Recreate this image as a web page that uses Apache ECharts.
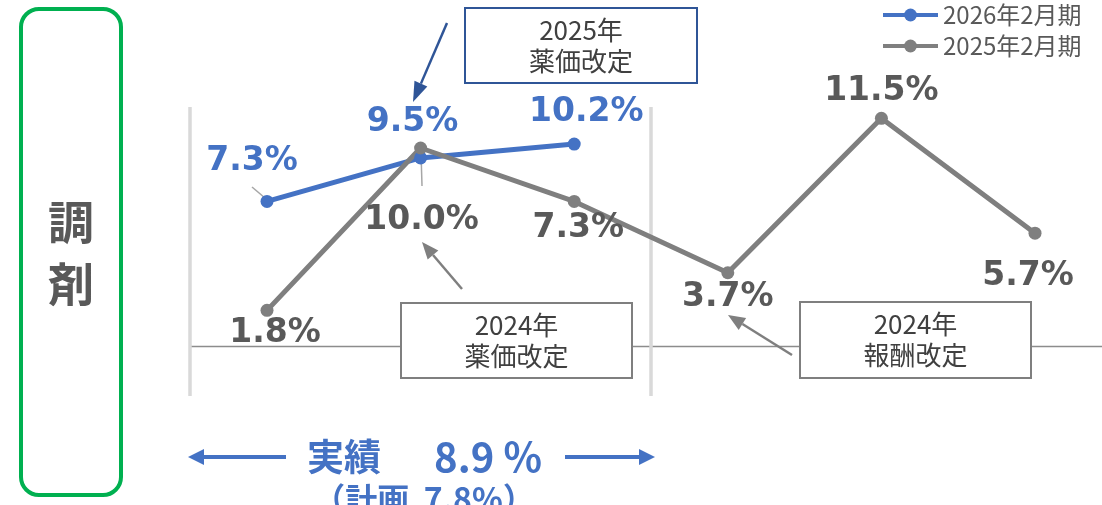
<!DOCTYPE html>
<html>
<head>
<meta charset="utf-8">
<script src="https://cdn.jsdelivr.net/npm/echarts@6/dist/echarts.min.js"></script>
<style>
  html, body { margin: 0; padding: 0; background: #fff; }
  #chart { width: 1102px; height: 505px; }
</style>
</head>
<body>
<div id="chart"></div>
<script>
// data
var categories = ['1', '2', '3', '4', '5', '6']
var seriesNames = ['2026年2月期', '2025年2月期']
var plan2026 = [7.3, 9.5, 10.2, null, null, null]
var actual2025 = [1.8, 10.0, 7.3, 3.7, 11.5, 5.7]

// label offsets (label center minus point), px
var blueOffsets = [[-15, -40], [-8, -35], [12, -32]]
var grayOffsets = [[8, 23], [1, 72], [4, 27], [0, 25], [0, -27], [-7, 43]]

var BLUE = '#4472C4'
var GRAY = '#7F7F7F'
var TEXT = '#595959'
var NUM_FONT = 'DejaVu Sans, Verdana, sans-serif'
var JP_FONT = '"Noto Sans CJK JP", sans-serif'

function withLabels (values, offsets, color) {
  return values.map(function (v, i) {
    if (v == null) return null
    return {
      value: v,
      label: { offset: offsets[i], color: color }
    }
  })
}

function arrow (x1, y1, x2, y2, color, width, headLen, headW) {
  var dx = x2 - x1
  var dy = y2 - y1
  var len = Math.sqrt(dx * dx + dy * dy)
  var ux = dx / len
  var uy = dy / len
  var bx = x2 - ux * headLen
  var by = y2 - uy * headLen
  return {
    type: 'group',
    z: 20,
    children: [
      { type: 'line', shape: { x1: x1, y1: y1, x2: bx, y2: by }, style: { stroke: color, lineWidth: width } },
      {
        type: 'polygon',
        shape: { points: [[x2, y2], [bx - uy * headW / 2, by + ux * headW / 2], [bx + uy * headW / 2, by - ux * headW / 2]] },
        style: { fill: color }
      }
    ]
  }
}

function box (x, y, w, h, stroke, lines) {
  return {
    type: 'group',
    z: 15,
    children: [
      { type: 'rect', shape: { x: x, y: y, width: w, height: h }, style: { fill: '#fff', stroke: stroke, lineWidth: 2 } },
      {
        type: 'text',
        x: x + w / 2,
        y: y + h / 2,
        style: {
          text: lines.join('\n'),
          fill: '#404040',
          font: '26px ' + JP_FONT,
          lineHeight: 31,
          align: 'center',
          verticalAlign: 'middle'
        }
      }
    ]
  }
}

var chart = echarts.init(document.getElementById('chart'))

var valueLabel = {
  show: true,
  position: 'inside',
  formatter: function (p) { return p.value.toFixed(1) + '%' },
  fontFamily: NUM_FONT,
  fontWeight: 'bold',
  fontSize: 33
}

var option = {
  animation: false,
  legend: {
    data: seriesNames,
    orient: 'vertical',
    left: 881,
    top: 3,
    padding: 0,
    itemWidth: 55,
    itemHeight: 16,
    itemGap: 7,
    lineStyle: { width: 4 },
    textStyle: { color: TEXT, fontSize: 24, fontFamily: 'Noto Sans CJK JP' }
  },
  grid: {
    left: 267,
    top: 108.4,
    width: 768,
    height: 237.6
  },
  xAxis: {
    type: 'category',
    data: categories,
    boundaryGap: false,
    axisLine: { show: false },
    axisTick: { show: false },
    axisLabel: { show: false }
  },
  yAxis: {
    type: 'value',
    min: 0,
    max: 12,
    show: false,
    splitLine: { show: false }
  },
  series: [
    {
      name: seriesNames[0],
      type: 'line',
      data: withLabels(plan2026, blueOffsets, BLUE),
      symbol: 'circle',
      symbolSize: 13,
      itemStyle: { color: BLUE },
      lineStyle: { color: BLUE, width: 5 },
      label: valueLabel
    },
    {
      name: seriesNames[1],
      type: 'line',
      data: withLabels(actual2025, grayOffsets, TEXT),
      symbol: 'circle',
      symbolSize: 13,
      itemStyle: { color: GRAY },
      lineStyle: { color: GRAY, width: 5 },
      label: valueLabel
    }
  ],
  graphic: [
    // side panel
    {
      type: 'rect',
      shape: { x: 21, y: 9, width: 100, height: 486, r: 18 },
      style: { fill: 'none', stroke: '#00B050', lineWidth: 4 }
    },
    {
      type: 'text',
      x: 71,
      y: 253,
      style: {
        text: '調\n剤',
        fill: TEXT,
        font: 'bold 46px ' + JP_FONT,
        lineHeight: 62,
        align: 'center',
        verticalAlign: 'middle'
      }
    },
    // baseline with period ticks
    { type: 'line', z: 0, shape: { x1: 190, y1: 346.5, x2: 1102, y2: 346.5 }, style: { stroke: '#8C8C8C', lineWidth: 1.5 } },
    { type: 'line', z: 0, shape: { x1: 190, y1: 346, x2: 190, y2: 358 }, style: { stroke: '#8C8C8C', lineWidth: 1.5 } },
    { type: 'line', z: 0, shape: { x1: 651, y1: 346, x2: 651, y2: 358 }, style: { stroke: '#8C8C8C', lineWidth: 1.5 } },
    // period separators
    { type: 'line', z: 1, shape: { x1: 190, y1: 107, x2: 190, y2: 396 }, style: { stroke: '#D9D9D9', lineWidth: 3.5 } },
    { type: 'line', z: 1, shape: { x1: 651, y1: 107, x2: 651, y2: 396 }, style: { stroke: '#D9D9D9', lineWidth: 3.5 } },
    // leader lines
    { type: 'line', shape: { x1: 252, y1: 187, x2: 265, y2: 198 }, style: { stroke: '#A6A6A6', lineWidth: 1.5 } },
    { type: 'line', shape: { x1: 421, y1: 152, x2: 422, y2: 186 }, style: { stroke: '#A6A6A6', lineWidth: 1.5 } },
    // callout boxes
    box(465, 8, 232, 75, '#2F5597', ['2025年', '薬価改定']),
    box(401, 303, 231, 75, GRAY, ['2024年', '薬価改定']),
    box(800, 302, 231, 76, GRAY, ['2024年', '報酬改定']),
    arrow(447, 23, 413, 102, '#2F5597', 2.5, 20, 14),
    arrow(462, 289, 422, 242, GRAY, 2.5, 17, 14),
    arrow(792, 355, 728, 315, GRAY, 2.5, 17, 14),
    // bottom summary
    arrow(286, 457, 188, 457, BLUE, 4, 16, 16),
    arrow(565, 457, 655, 457, BLUE, 4, 16, 16),
    {
      type: 'text',
      x: 344,
      y: 457,
      style: { text: '実績', fill: BLUE, font: 'bold 37px ' + JP_FONT, align: 'center', verticalAlign: 'middle' }
    },
    {
      type: 'text',
      x: 488,
      y: 457,
      style: { text: '8.9 %', fill: BLUE, font: 'bold 40px ' + JP_FONT, align: 'center', verticalAlign: 'middle' }
    },
    {
      type: 'text',
      x: 424,
      y: 499,
      style: { text: '（計画  7.8%）', fill: BLUE, font: 'bold 32px ' + JP_FONT, align: 'center', verticalAlign: 'middle' }
    }
  ]
}

chart.setOption(option)
</script>
</body>
</html>
